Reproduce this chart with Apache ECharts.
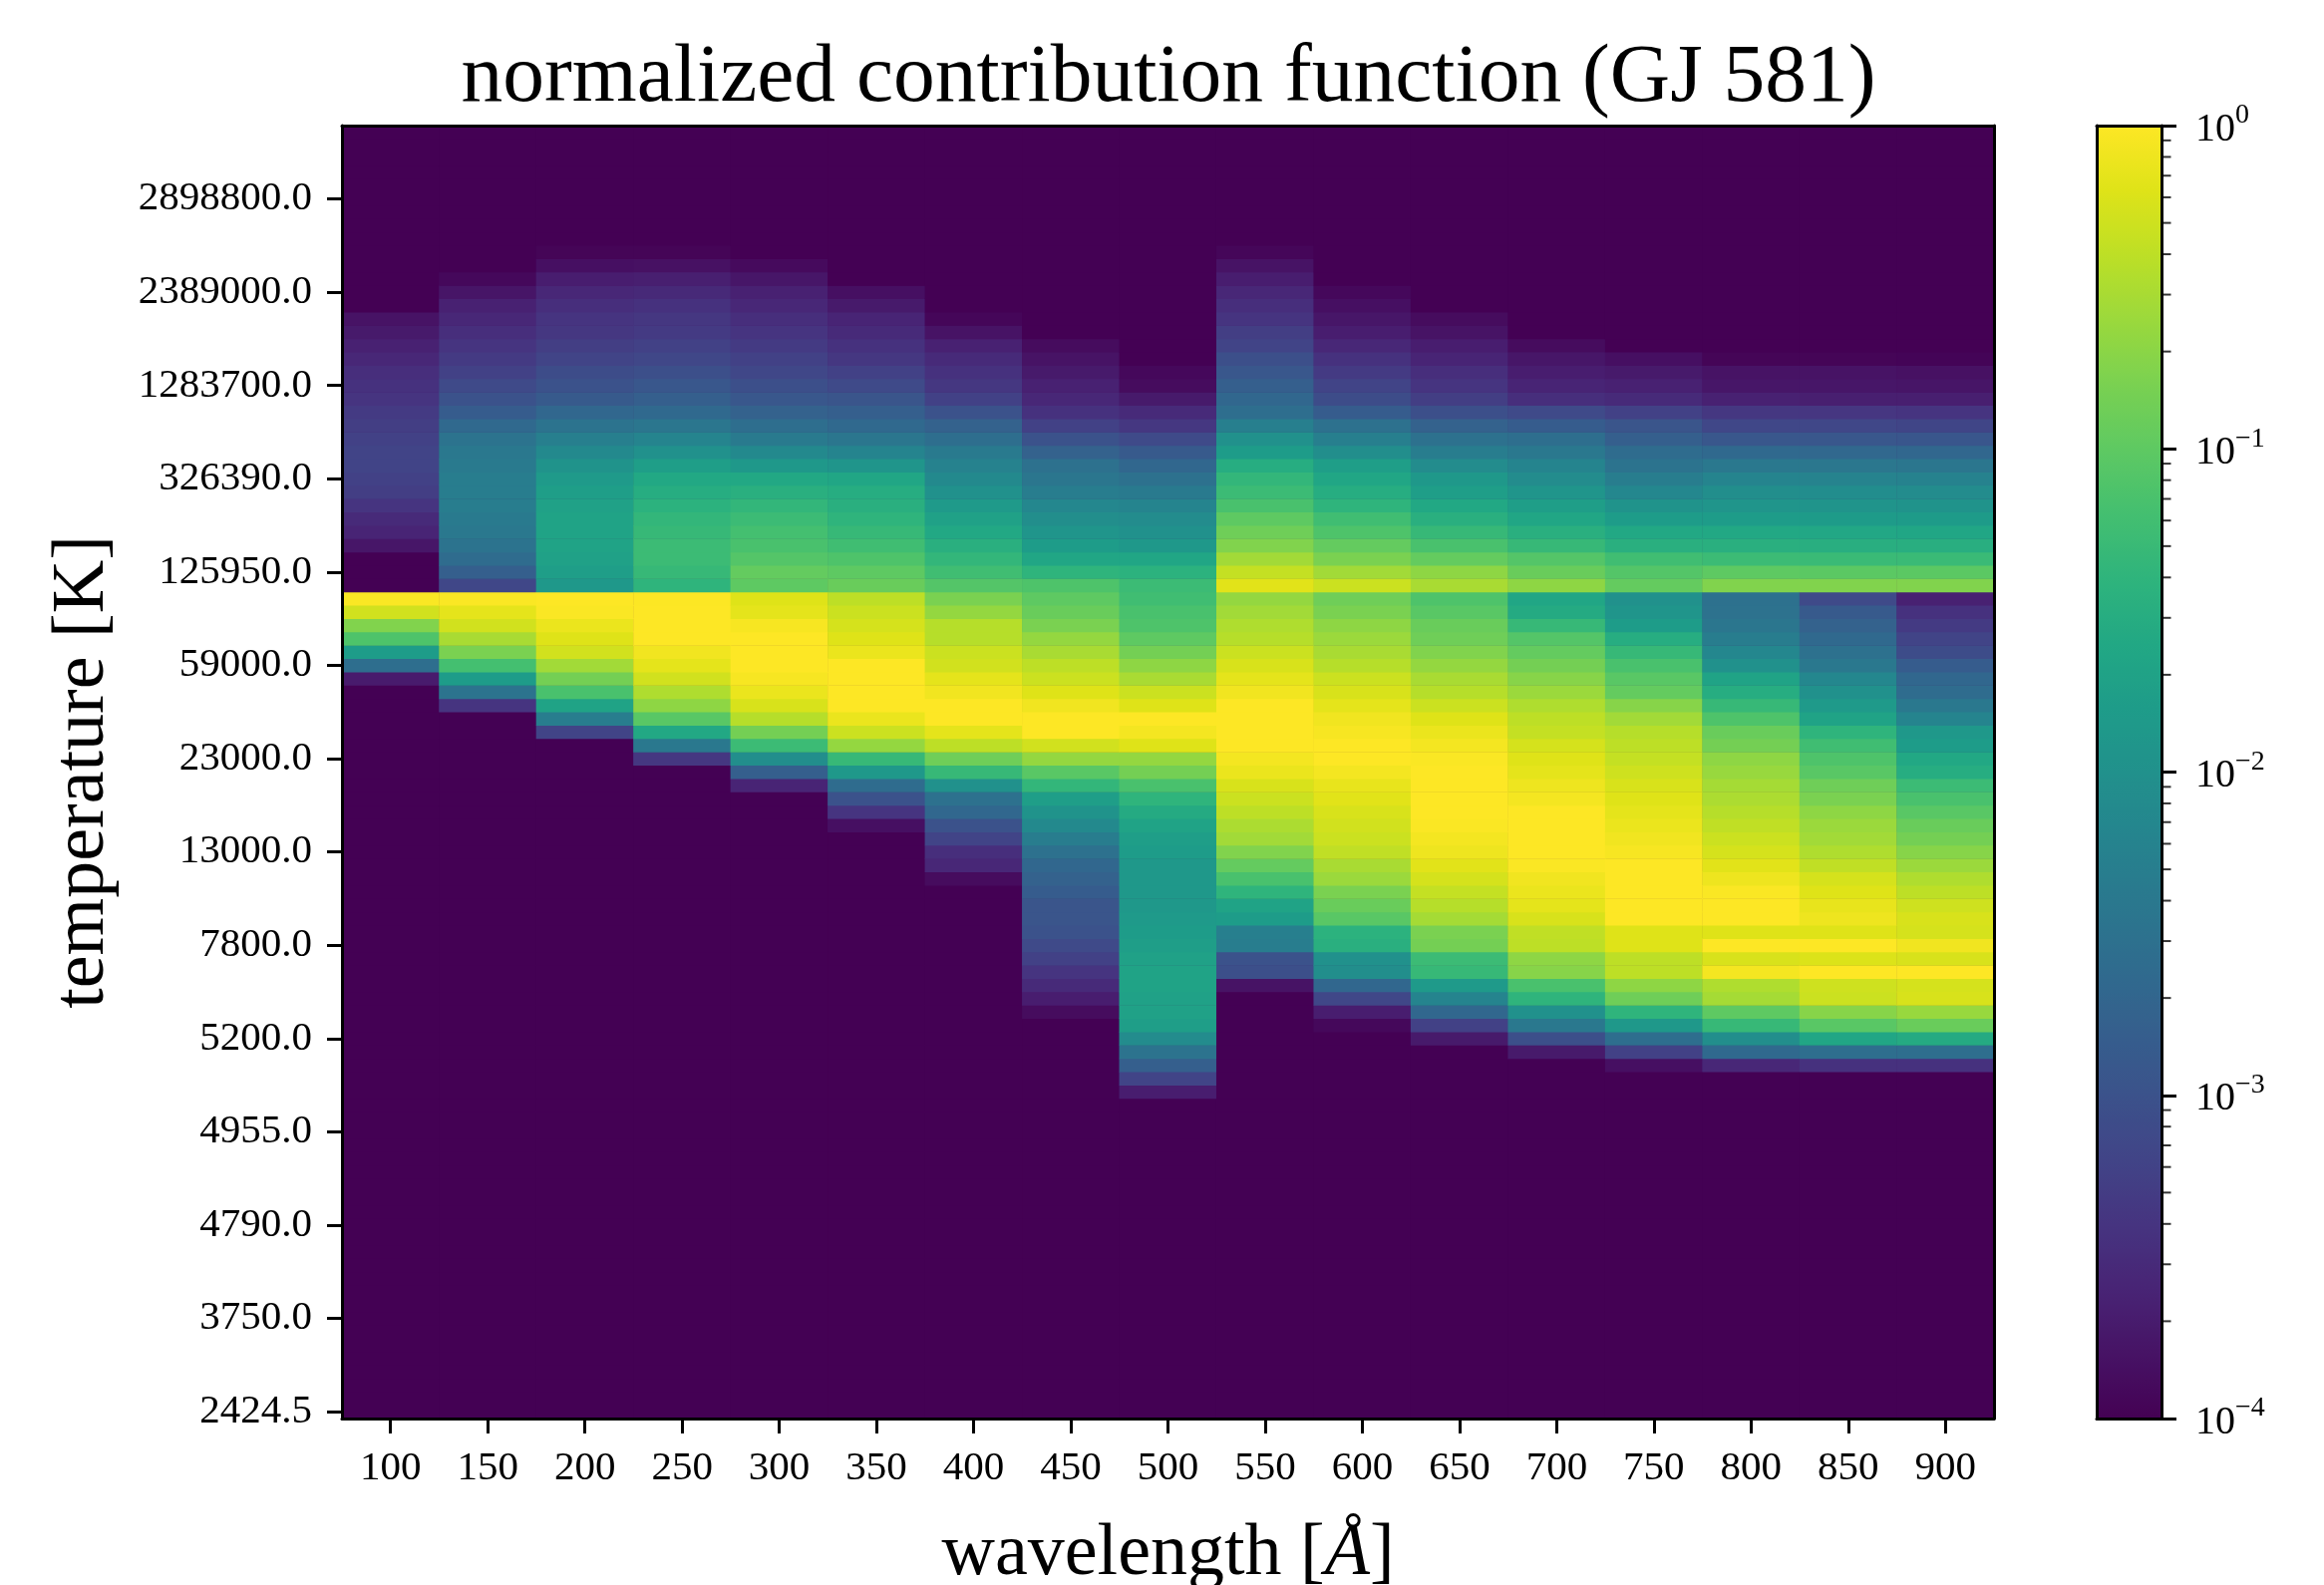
<!DOCTYPE html>
<html><head><meta charset="utf-8">
<style>html,body{margin:0;padding:0;background:#fff}#c{width:2331px;height:1590px;filter:blur(0.6px)}</style>
<script src="https://cdn.jsdelivr.net/npm/echarts@6/dist/echarts.min.js"></script>
</head><body><div id="c"></div>
<script>
const wavelengths = ['100','150','200','250','300','350','400','450','500','550','600','650','700','750','800','850','900'];
const temperatureTicks = ['2424.5','3750.0','4790.0','4955.0','5200.0','7800.0','13000.0','23000.0','59000.0','125950.0','326390.0','1283700.0','2389000.0','2898800.0'];
const rowCount = 97, rowsPerTick = 7, floorLog = -4;
// log10 of the normalized contribution function; each list runs downward from its top row
const topRows = [82,85,87,87,86,84,82,80,78,87,84,82,80,79,79,79,79];
const c100 = [-3.80,-3.72,-3.64,-3.56,-3.48,-3.44,-3.40,-3.32,-3.28,-3.24,-3.20,-3.20,-3.24,-3.28,-3.40,-3.52,-3.60,-3.76,-4,-4,-4,-0.02,-0.28,-0.76,-1.12,-1.80,-2.56,-3.70];
const c150 = [-3.92,-3.78,-3.64,-3.56,-3.48,-3.40,-3.32,-3.24,-3.12,-3.00,-2.84,-2.64,-2.48,-2.40,-2.36,-2.32,-2.32,-2.32,-2.36,-2.40,-2.48,-2.60,-2.80,-3.16,-0.02,-0.16,-0.28,-0.52,-0.80,-1.20,-1.80,-2.48,-3.40];
const c200 = [-3.96,-3.84,-3.68,-3.56,-3.48,-3.40,-3.36,-3.28,-3.20,-3.08,-3.00,-2.88,-2.68,-2.48,-2.28,-2.12,-1.96,-1.84,-1.76,-1.72,-1.68,-1.68,-1.68,-1.72,-1.76,-1.88,0,-0.02,-0.12,-0.20,-0.28,-0.56,-0.84,-1.16,-1.68,-2.32,-3.20];
const c250 = [-3.96,-3.82,-3.66,-3.54,-3.44,-3.36,-3.32,-3.24,-3.16,-3.04,-2.92,-2.80,-2.64,-2.44,-2.20,-2.00,-1.76,-1.60,-1.52,-1.44,-1.36,-1.32,-1.28,-1.28,-1.32,-1.40,-0.01,0,0,0,-0.08,-0.16,-0.28,-0.48,-0.68,-1.04,-1.60,-2.40,-3.36];
const c300 = [-3.90,-3.76,-3.64,-3.56,-3.48,-3.40,-3.32,-3.24,-3.16,-3.04,-2.92,-2.76,-2.56,-2.36,-2.12,-1.88,-1.60,-1.48,-1.36,-1.28,-1.20,-1.16,-1.08,-0.96,-1.00,-0.20,-0.16,-0.04,0,0,0,-0.04,-0.12,-0.24,-0.44,-0.84,-1.28,-2.04,-2.80,-3.60];
const c350 = [-3.84,-3.72,-3.60,-3.52,-3.44,-3.36,-3.24,-3.12,-2.96,-2.80,-2.64,-2.44,-2.20,-1.92,-1.64,-1.52,-1.48,-1.40,-1.32,-1.24,-1.12,-1.00,-0.92,-0.40,-0.32,-0.26,-0.20,-0.12,0,0,0,0,-0.12,-0.32,-0.64,-1.32,-1.88,-2.60,-3.00,-3.40,-3.84];
const c400 = [-3.94,-3.80,-3.64,-3.52,-3.44,-3.36,-3.24,-3.00,-2.76,-2.56,-2.36,-2.24,-2.12,-2.00,-1.84,-1.72,-1.60,-1.48,-1.36,-1.24,-1.08,-0.80,-0.64,-0.44,-0.44,-0.32,-0.28,-0.16,-0.08,0,0,-0.16,-0.40,-0.88,-1.32,-2.00,-2.52,-2.68,-3.00,-3.20,-3.48,-3.56,-3.88];
const c450 = [-3.88,-3.80,-3.72,-3.64,-3.56,-3.44,-3.24,-3.00,-2.76,-2.52,-2.44,-2.32,-2.16,-2.04,-1.92,-1.80,-1.64,-1.40,-1.12,-1.00,-0.92,-0.80,-0.64,-0.52,-0.40,-0.32,-0.20,-0.08,0,0,-0.28,-0.64,-1.04,-1.36,-1.76,-1.96,-2.12,-2.32,-2.52,-2.68,-2.76,-2.84,-2.96,-2.96,-3.00,-3.12,-3.24,-3.40,-3.52,-3.68,-3.88];
const c500 = [-3.92,-3.88,-3.72,-3.52,-3.36,-3.12,-2.88,-2.68,-2.52,-2.36,-2.20,-2.08,-2.00,-1.88,-1.64,-1.44,-1.28,-1.24,-1.16,-1.12,-1.00,-0.84,-0.68,-0.52,-0.32,-0.20,0,-0.06,-0.20,-0.64,-0.84,-1.16,-1.40,-1.56,-1.68,-1.76,-1.80,-1.88,-1.88,-1.88,-1.88,-1.84,-1.80,-1.76,-1.72,-1.68,-1.68,-1.72,-1.72,-1.76,-2.08,-2.48,-2.80,-3.20,-3.68];
const c550 = [-3.94,-3.80,-3.68,-3.56,-3.48,-3.40,-3.28,-3.20,-3.04,-2.92,-2.80,-2.68,-2.56,-2.28,-2.00,-1.80,-1.52,-1.36,-1.28,-1.16,-1.00,-0.88,-0.76,-0.56,-0.36,-0.18,-0.64,-0.56,-0.48,-0.44,-0.32,-0.24,-0.16,-0.08,0,0,0,0,-0.06,-0.12,-0.24,-0.32,-0.40,-0.50,-0.56,-0.76,-0.96,-1.16,-1.40,-1.68,-1.80,-2.28,-2.32,-3.00,-3.04,-3.80];
const c600 = [-3.92,-3.84,-3.76,-3.68,-3.56,-3.44,-3.32,-3.20,-3.08,-2.84,-2.52,-2.28,-2.04,-1.76,-1.64,-1.52,-1.40,-1.24,-1.12,-0.96,-0.80,-0.56,-0.32,-0.88,-0.80,-0.68,-0.60,-0.52,-0.44,-0.32,-0.24,-0.16,-0.08,-0.04,0,0,-0.06,-0.14,-0.18,-0.24,-0.28,-0.32,-0.38,-0.52,-0.60,-0.80,-0.92,-1.04,-1.44,-1.48,-2.00,-2.04,-2.68,-3.16,-3.68,-3.92];
const c650 = [-3.88,-3.80,-3.68,-3.60,-3.48,-3.40,-3.28,-3.04,-2.76,-2.52,-2.32,-2.08,-1.88,-1.76,-1.60,-1.48,-1.32,-1.16,-0.96,-0.68,-0.52,-1.12,-1.04,-0.92,-0.88,-0.76,-0.64,-0.52,-0.44,-0.32,-0.20,-0.12,-0.06,-0.02,0,0,0,0,-0.02,-0.06,-0.10,-0.18,-0.26,-0.36,-0.44,-0.54,-0.80,-0.84,-1.28,-1.32,-1.84,-2.20,-2.68,-3.24,-3.72];
const c700 = [-3.88,-3.76,-3.68,-3.60,-3.48,-3.12,-2.84,-2.56,-2.40,-2.20,-2.08,-1.92,-1.76,-1.64,-1.48,-1.32,-1.08,-0.92,-0.68,-1.64,-1.56,-1.32,-1.08,-0.96,-0.84,-0.72,-0.60,-0.48,-0.40,-0.36,-0.26,-0.20,-0.16,-0.10,-0.06,0,0,0,0,-0.02,-0.08,-0.12,-0.16,-0.24,-0.38,-0.40,-0.68,-0.72,-1.16,-1.40,-2.00,-2.40,-3.04,-3.72];
const c750 = [-3.84,-3.72,-3.64,-3.52,-3.24,-2.96,-2.80,-2.60,-2.48,-2.32,-2.16,-1.96,-1.80,-1.60,-1.48,-1.24,-1.08,-0.96,-2.00,-1.92,-1.80,-1.52,-1.32,-1.16,-1.04,-0.96,-0.72,-0.56,-0.44,-0.40,-0.36,-0.30,-0.24,-0.20,-0.16,-0.12,-0.08,-0.04,0,0,0,0,0,-0.20,-0.20,-0.40,-0.40,-0.68,-0.88,-1.40,-1.88,-2.56,-3.24,-3.84];
const c800 = [-3.96,-3.80,-3.76,-3.64,-3.36,-3.16,-2.92,-2.64,-2.40,-2.20,-2.04,-1.92,-1.80,-1.60,-1.48,-1.28,-1.00,-0.76,-2.52,-2.50,-2.44,-2.32,-2.16,-2.00,-1.68,-1.52,-1.32,-1.12,-0.92,-0.84,-0.68,-0.62,-0.54,-0.50,-0.44,-0.38,-0.32,-0.26,-0.18,-0.10,-0.02,0,0,-0.20,0,-0.24,-0.06,-0.48,-0.54,-1.00,-1.32,-2.04,-2.64,-3.56];
const c850 = [-3.96,-3.80,-3.76,-3.66,-3.38,-3.16,-2.92,-2.66,-2.42,-2.22,-2.06,-1.94,-1.82,-1.62,-1.50,-1.30,-1.02,-0.76,-3.12,-2.88,-2.76,-2.64,-2.52,-2.40,-2.16,-2.00,-1.84,-1.68,-1.40,-1.24,-1.12,-1.04,-0.88,-0.80,-0.68,-0.60,-0.56,-0.48,-0.38,-0.26,-0.20,-0.14,-0.10,-0.20,0,-0.22,0,-0.30,-0.32,-0.72,-1.04,-1.64,-2.56,-3.44];
const c900 = [-3.97,-3.82,-3.78,-3.66,-3.40,-3.18,-2.94,-2.68,-2.44,-2.24,-2.08,-1.96,-1.82,-1.64,-1.50,-1.30,-1.02,-0.76,-3.64,-3.44,-3.32,-3.20,-3.08,-2.84,-2.68,-2.60,-2.40,-2.20,-1.88,-1.80,-1.60,-1.52,-1.28,-1.16,-1.04,-0.92,-0.84,-0.72,-0.60,-0.48,-0.40,-0.30,-0.24,-0.26,-0.08,-0.24,0,-0.26,-0.24,-0.62,-0.92,-1.56,-2.56,-3.44];
const columns = [c100,c150,c200,c250,c300,c350,c400,c450,c500,c550,c600,c650,c700,c750,c800,c850,c900];
const colorbarDecades = [-4,-3,-2,-1];
const colorbarMinorMultiples = [2,3,4,5,6,7,8,9];
const superscripts = {'0':'0','-1':'−1','-2':'−2','-3':'−3','-4':'−4'};
const viridis = ['#440154','#471365','#482475','#463480','#414487','#3b528b','#355f8d','#2f6c8e','#2a788e','#25848e','#21918c','#1e9c89','#22a884','#2fb47c','#44bf70','#5ec962','#7ad151','#9bd93c','#bddf26','#dfe318','#fde725'];

const cells = [];
columns.forEach((col, c) => {
  for (let r = 0; r < rowCount; r++) {
    const i = topRows[c] - r;
    const v = (i >= 0 && i < col.length) ? col[i] : floorLog;
    cells.push([c, r, v]);
  }
});
const rowLabels = [];
for (let r = 0; r < rowCount; r++) rowLabels.push(r % rowsPerTick === 0 ? temperatureTicks[r / rowsPerTick] : '');
const minorTicks = [];
colorbarDecades.forEach(e => colorbarMinorMultiples.forEach(m => minorTicks.push([1, e + Math.log10(m)])));

const FONT = '"Liberation Serif"';
const everySeventh = i => i % rowsPerTick === 0;
const line = {show: true, onZero: false, lineStyle: {color: '#000', width: 3}};
const tick = {show: true, length: 15, lineStyle: {color: '#000', width: 3}};
const hidden = {show: false};

const chart = echarts.init(document.getElementById('c'), null, {renderer: 'canvas'});
chart.setOption({
  animation: false,
  backgroundColor: '#fff',
  title: {
    text: 'normalized contribution function (GJ 581)',
    left: 1167, top: 32, textAlign: 'center',
    textStyle: {fontFamily: FONT, fontSize: 83.5, fontWeight: 'normal', color: '#000'}
  },
  grid: [
    {left: 343, top: 126, width: 1657, height: 1297, outerBoundsMode: 'none', containLabel: false,
     show: true, backgroundColor: '#440154', borderWidth: 0},
    {left: 2103, top: 126, width: 65, height: 1297, outerBoundsMode: 'none', containLabel: false}
  ],
  xAxis: [
    {type: 'category', gridIndex: 0, data: wavelengths, position: 'bottom', z: 10,
     axisLine: line, axisTick: {...tick, alignWithLabel: true},
     axisLabel: {fontFamily: FONT, fontSize: 41, color: '#000', margin: 30, interval: 0},
     splitLine: hidden,
     name: 'wavelength [{i|Å}]', nameLocation: 'middle', nameGap: 100,
     nameTextStyle: {fontFamily: FONT, fontSize: 74, color: '#000', rich: {i: {fontFamily: FONT, fontStyle: 'italic', fontSize: 74, color: '#000'}}}},
    {type: 'category', gridIndex: 0, data: wavelengths, position: 'top', z: 10,
     axisLine: line, axisTick: hidden, axisLabel: hidden, splitLine: hidden},
    {type: 'value', gridIndex: 1, min: 0, max: 1, position: 'bottom', z: 10,
     axisLine: line, axisTick: hidden, axisLabel: hidden, splitLine: hidden},
    {type: 'value', gridIndex: 1, min: 0, max: 1, position: 'top', z: 10,
     axisLine: line, axisTick: hidden, axisLabel: hidden, splitLine: hidden}
  ],
  yAxis: [
    {type: 'category', gridIndex: 0, data: rowLabels, position: 'left', z: 10,
     axisLine: line, axisTick: {...tick, alignWithLabel: true, interval: everySeventh},
     axisLabel: {fontFamily: FONT, fontSize: 41, color: '#000', margin: 30, padding: [6, 0, 0, 0], interval: everySeventh},
     splitLine: hidden,
     name: 'temperature [K]', nameLocation: 'middle', nameRotate: 90, nameGap: 222,
     nameTextStyle: {fontFamily: FONT, fontSize: 74, color: '#000'}},
    {type: 'category', gridIndex: 0, data: rowLabels, position: 'right', z: 10,
     axisLine: line, axisTick: hidden, axisLabel: hidden, splitLine: hidden},
    {type: 'value', gridIndex: 1, min: -4, max: 0, interval: 1, position: 'right', z: 10,
     axisLine: line, axisTick: tick, splitLine: hidden,
     axisLabel: {margin: 34, align: 'left',
       formatter: v => '{b|10}{s|' + superscripts[String(v)] + '}',
       rich: {b: {fontFamily: FONT, fontSize: 40, color: '#000', padding: [8, 0, 0, 0]},
              s: {fontFamily: FONT, fontSize: 28, color: '#000', padding: [0, 0, 20, 0]}}}},
    {type: 'value', gridIndex: 1, min: -4, max: 0, interval: 1, position: 'left', z: 10,
     axisLine: line, axisTick: hidden, axisLabel: hidden, splitLine: hidden}
  ],
  visualMap: {
    type: 'continuous', seriesIndex: 0, dimension: 2, min: -4, max: 0,
    calculable: false, realtime: false, hoverLink: false, text: null, showLabel: false,
    left: 2103, top: 126, itemWidth: 65, itemHeight: 1297, padding: 0,
    inRange: {color: viridis}, orient: 'vertical'
  },
  series: [
    {type: 'heatmap', xAxisIndex: 0, yAxisIndex: 0, data: cells, progressive: 0, silent: true,
     itemStyle: {borderWidth: 0}, emphasis: {disabled: true}},
    {type: 'scatter', xAxisIndex: 2, yAxisIndex: 2, data: minorTicks, symbol: 'rect',
     symbolSize: [9, 2], symbolOffset: [5, 0], clip: false, silent: true, z: 12,
     itemStyle: {color: '#000'}}
  ]
});
</script></body></html>
